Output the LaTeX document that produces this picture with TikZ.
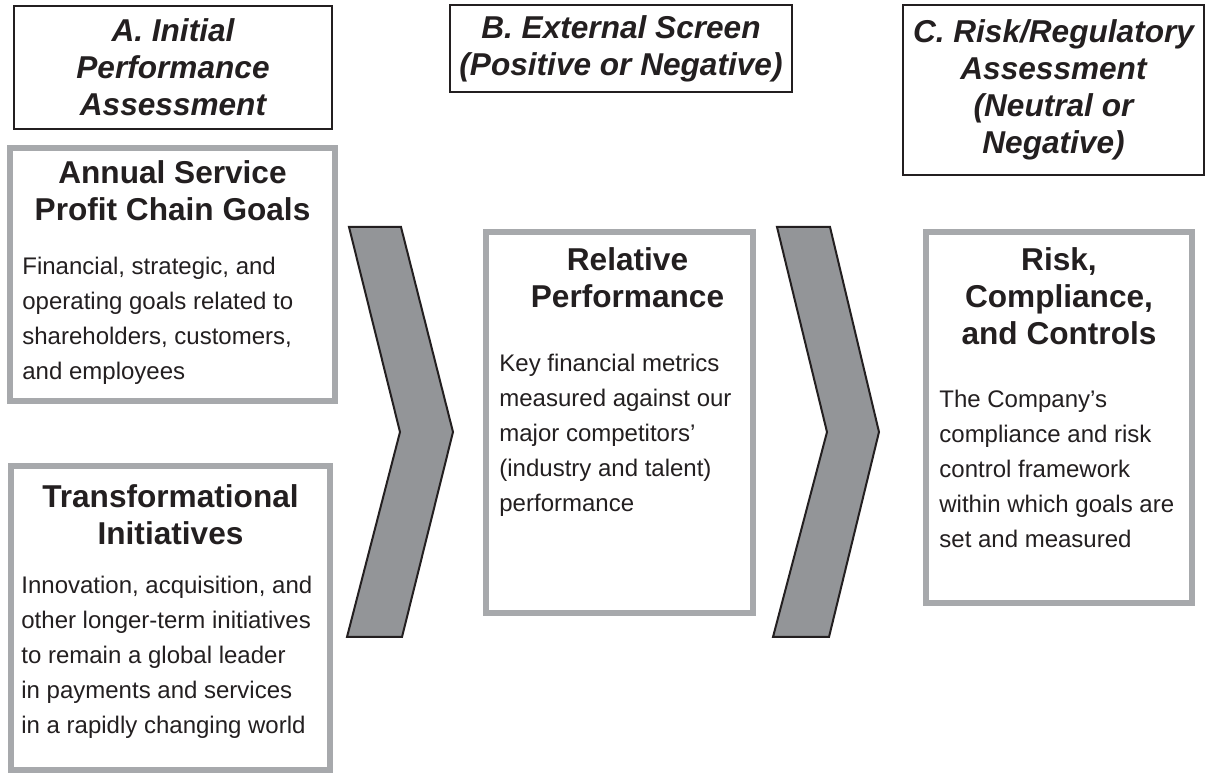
\documentclass[tikz,border=0pt]{standalone}
\usepackage{fontspec}
\setmainfont{Liberation Sans}
\usetikzlibrary{positioning}
\definecolor{boxgray}{HTML}{A7A9AC}
\definecolor{chevgray}{HTML}{939598}
\definecolor{inkblack}{HTML}{231F20}

\begin{document}
\begin{tikzpicture}[x=0.5pt, y=-0.5pt]
    % Setup the styles for headers, panels and chevrons
    \tikzset{stage style/.style={draw=inkblack, line width=0.8pt, align=center, inner sep=0pt,
                                 font=\bfseries\itshape\fontsize{15.8}{18.5}\selectfont, text=inkblack},
             panel style/.style={draw=boxgray, line width=3pt, fill=white, inner sep=0pt},
             title style/.style={align=center, inner sep=0pt,
                                 font=\bfseries\fontsize{15.8}{18.5}\selectfont, text=inkblack},
             body style/.style={align=left, inner sep=0pt,
                                font=\fontsize{12}{17.5}\selectfont, text=inkblack},
             chevron style/.style={draw=inkblack, line width=1pt, fill=chevgray, line join=miter}}

    \useasboundingbox (0,0) rectangle (1205,774);

    % Draw the stage headers
    \node[stage style, minimum width=159pt, minimum height=61.5pt] at (173, 67.5) (initial)
        {A. Initial\\Performance\\Assessment};
    \node[stage style, minimum width=171pt, minimum height=43.5pt] at (621, 48.5) (screen)
        {B. External Screen\\(Positive or Negative)};
    \node[stage style, minimum width=150.5pt, minimum height=85pt] at (1053.5, 90) (regulatory)
        {C. Risk/Regulatory\\Assessment\\(Neutral or\\Negative)};

    % Draw the chevrons
    \draw[chevron style] (349,227) -- (401,227) -- (453,432) -- (402,637) -- (347,637) -- (400,432) -- cycle;
    \draw[chevron style] (777,227) -- (830,227) -- (879,432) -- (829,637) -- (773,637) -- (827,432) -- cycle;

    % Draw the panels
    \node[panel style, minimum width=162.5pt, minimum height=126.5pt] at (172.5, 274.5) (goals) {};
    \node[panel style, minimum width=159.5pt, minimum height=152pt]   at (170.5, 618)   (transform) {};
    \node[panel style, minimum width=133.5pt, minimum height=190.5pt] at (619.5, 422.5) (relative) {};
    \node[panel style, minimum width=133pt,   minimum height=185.5pt] at (1059, 417.5)  (risk) {};

    % Panel titles
    \node[title style, below=7.5pt of goals.north]              (goals title)     {Annual Service\\Profit Chain Goals};
    \node[title style, below=10.5pt of transform.north]         (transform title) {Transformational\\Initiatives};
    \node[title style, below=9pt of relative.north, xshift=4pt] (relative title)  {Relative\\Performance};
    \node[title style, below=9pt of risk.north]                 (risk title)      {Risk,\\Compliance,\\and Controls};

    % Panel texts
    \node[body style, below right=56pt and 7.5pt of goals.north west] (goals text)
        {Financial, strategic, and\\operating goals related to\\shareholders, customers,\\and employees};
    \node[body style, below right=56.5pt and 6.5pt of transform.north west] (transform text)
        {Innovation, acquisition, and\\other longer-term initiatives\\to remain a global leader\\in payments and services\\in a rapidly changing world};
    \node[body style, below right=62.5pt and 8pt of relative.north west] (relative text)
        {Key financial metrics\\measured against our\\major competitors’\\(industry and talent)\\performance};
    \node[body style, below right=80.5pt and 8pt of risk.north west] (risk text)
        {The Company’s\\compliance and risk\\control framework\\within which goals are\\set and measured};
\end{tikzpicture}
\end{document}
